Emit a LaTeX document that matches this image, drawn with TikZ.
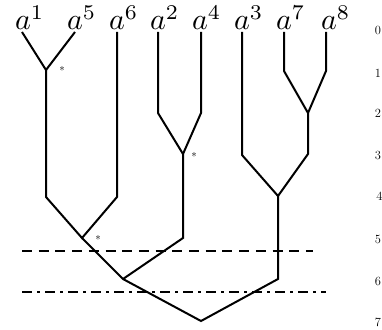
\documentclass[tikz,border=0pt]{standalone}
\usepackage{mathtools}
\usepackage{graphicx}
\newcommand{\leaftext}[1]{\scalebox{3.0}{$a\mathrlap{^{#1}}$}}
\begin{document}
\begin{tikzpicture}[x=1pt,y=-1pt,
  branch/.style={line width=2pt,line join=miter},
  leaflabel/.style={anchor=base,inner sep=0pt},
  star/.style={inner sep=0pt,font=\fontsize{11}{12}\selectfont},
  levellabel/.style={inner sep=0pt,font=\fontsize{12.5}{13}\selectfont},
  cutA/.style={line width=2pt,dash pattern=on 10pt off 6.7pt},
  cutB/.style={line width=2pt,dash pattern=on 10pt off 5pt on 2.5pt off 5.5pt}]
\useasboundingbox (0,0) rectangle (382,329);
% leaf labels
\node[leaflabel] (L1) at (23,30) {\leaftext{1}};
\node[leaflabel] (L5) at (75,30) {\leaftext{5}};
\node[leaflabel] (L6) at (117,30) {\leaftext{6}};
\node[leaflabel] (L2) at (158,30) {\leaftext{2}};
\node[leaflabel] (L4) at (200,30) {\leaftext{4}};
\node[leaflabel] (L3) at (242,30) {\leaftext{3}};
\node[leaflabel] (L7) at (284,30) {\leaftext{7}};
\node[leaflabel] (L8) at (329,30) {\leaftext{8}};
% tree points
\coordinate (t1) at (22,32);
\coordinate (t5) at (75,32);
\coordinate (t6) at (117,32);
\coordinate (t2) at (158,32);
\coordinate (t4) at (201,32);
\coordinate (t3) at (242,32);
\coordinate (t7) at (284,32);
\coordinate (t8) at (326,32);
\coordinate (j15) at (46,70);
\coordinate (b15) at (46,197);
\coordinate (b6) at (117,197);
\coordinate (j156) at (82,238);
\coordinate (b2) at (158,113);
\coordinate (b4) at (201,113);
\coordinate (j24) at (183,154);
\coordinate (c24) at (183,238);
\coordinate (j) at (123,279);
\coordinate (b7) at (284,71);
\coordinate (b8) at (326,71);
\coordinate (j78) at (308,113);
\coordinate (c78) at (308,154);
\coordinate (b3) at (242,155);
\coordinate (j378) at (278,196);
\coordinate (c378) at (278,279);
\coordinate (root) at (201,321);
% branches
\draw[branch] (t1) -- (j15) -- (t5);
\draw[branch] (j15) -- (b15) -- (j156) -- (b6) -- (t6);
\draw[branch] (t2) -- (b2) -- (j24) -- (b4) -- (t4);
\draw[branch] (j24) -- (c24) -- (j);
\draw[branch] (j156) -- (j) -- (root) -- (c378) -- (j378);
\draw[branch] (t7) -- (b7) -- (j78) -- (b8) -- (t8);
\draw[branch] (j78) -- (c78) -- (j378) -- (b3) -- (t3);
% stars
\node[star] (s1) at (62,69) {$\ast$};
\node[star] (s2) at (194,155) {$\ast$};
\node[star] (s3) at (98,238) {$\ast$};
% cut lines
\coordinate (dA1) at (22,251);
\coordinate (dA2) at (313,251);
\coordinate (dB1) at (22,292);
\coordinate (dB2) at (326,292);
\draw[cutA] (dA1) -- (dA2);
\draw[cutB] (dB1) -- (dB2);
% level labels
\node[levellabel] (n0) at (378,30) {0};
\node[levellabel] (n1) at (378,73) {1};
\node[levellabel] (n2) at (378,113) {2};
\node[levellabel] (n3) at (378,155) {3};
\node[levellabel] (n4) at (379.5,196) {4};
\node[levellabel] (n5) at (378,239) {5};
\node[levellabel] (n6) at (378,281) {6};
\node[levellabel] (n7) at (378,322) {7};
\end{tikzpicture}
\end{document}
